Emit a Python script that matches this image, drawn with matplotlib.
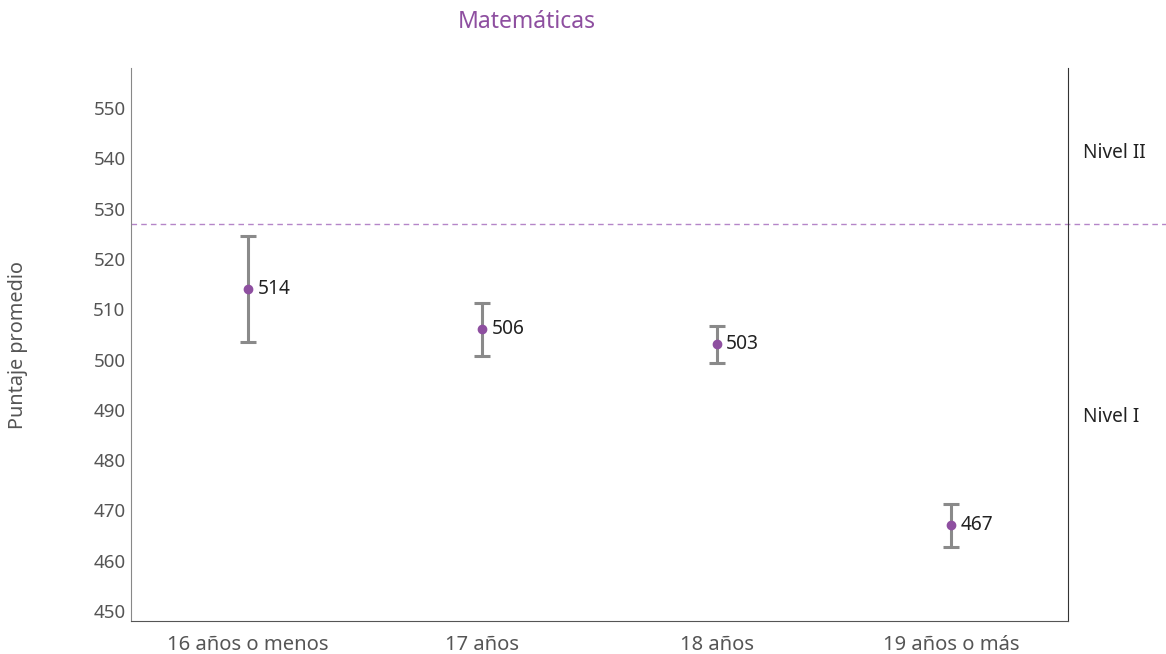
import numpy as np
import matplotlib.pyplot as plt

# Puntaje promedio en matemáticas por edad
grupos = ['16 años o menos', '17 años', '18 años', '19 años o más']
promedio = [514, 506, 503, 467]
error = [10.5, 5.3, 3.6, 4.2]
corte_nivel = 527
niveles = ['Nivel I', 'Nivel II']
niveles_y = [488.5, 541]

morado = '#8e4fa0'
gris = '#555555'

plt.rcParams['font.family'] = ['Noto Sans', 'DejaVu Sans']

fig = plt.figure(figsize=(11.66, 6.54), dpi=100)
ax = fig.add_axes([131 / 1166, 1 - 621 / 654, 937 / 1166, 553 / 654])

x = np.arange(len(grupos))
ax.errorbar(x, promedio, yerr=error, fmt='none', ecolor='#8a8a8a',
            elinewidth=2.2, capsize=6, capthick=2.2, zorder=2)
ax.plot(x, promedio, 'o', color=morado, markersize=6, zorder=3)
for xi, v in zip(x, promedio):
    ax.text(xi + 0.04, v, str(v), fontsize=13.8, color='#222222',
            va='center', ha='left')

# línea de corte entre niveles, se prolonga fuera del área
ax.plot([0, 1.105], [corte_nivel, corte_nivel], transform=ax.get_yaxis_transform(),
        color='#b585c8', linestyle=(0, (4, 3)), linewidth=1, clip_on=False)
for nombre, y in zip(niveles, niveles_y):
    ax.text(1.016, y, nombre, transform=ax.get_yaxis_transform(),
            fontsize=13.7, color='#222222', va='center', ha='left')

ax.set_xlim(-0.5, 3.5)
ax.set_ylim(448, 558)
ax.set_xticks(x)
ax.set_xticklabels(grupos)
ax.set_yticks(np.arange(450, 551, 10))
ax.tick_params(length=0, labelcolor=gris)
ax.tick_params(axis='x', labelsize=14.5, pad=10)
ax.tick_params(axis='y', labelsize=13.5, pad=4)

ax.spines['top'].set_visible(False)
ax.spines['left'].set_color('#888888')
ax.spines['bottom'].set_color('#555555')
ax.spines['right'].set_color('#333333')

fig.text(18 / 1166, 1 - 345 / 654, 'Puntaje promedio', rotation=90,
         fontsize=14.3, color=gris, va='center', ha='center')
fig.text(527 / 1166, 1 - 22 / 654, 'Matemáticas', fontsize=16.5,
         color=morado, ha='center', va='center')

fig.savefig('out.png', dpi=100)
